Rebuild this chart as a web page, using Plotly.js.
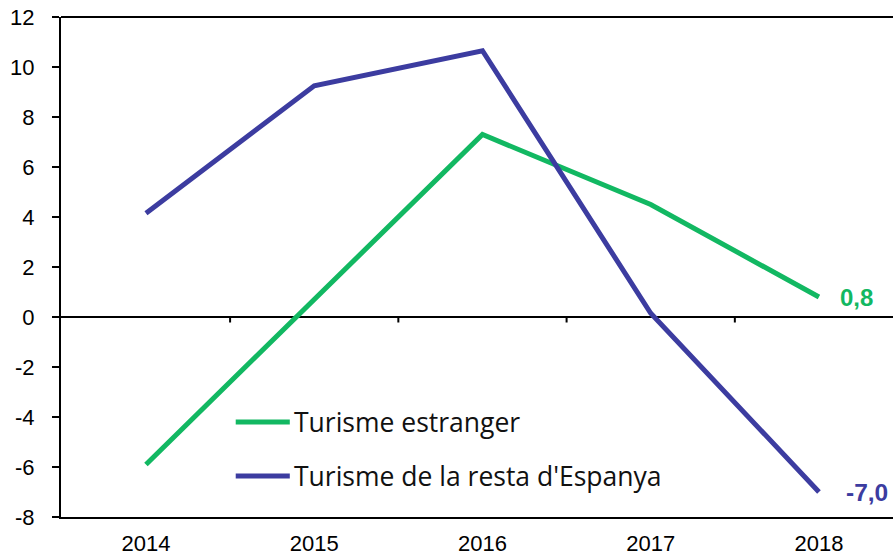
<!DOCTYPE html>
<html>
<head>
<meta charset="utf-8">
<script src="https://cdn.plot.ly/plotly-3.0.1.min.js"></script>
<style>html,body{margin:0;padding:0;background:#fff;}#chart{width:893px;height:558px;}</style>
</head>
<body>
<div id="chart"></div>
<script>
const years = ['2014', '2015', '2016', '2017', '2018'];
const seriesNames = ['Turisme estranger', "Turisme de la resta d'Espanya"];
const estranger = [-5.9, 0.7, 7.3, 4.5, 0.8];
const restaEspanya = [4.15, 9.25, 10.65, 0.15, -7.0];
const endLabels = ['0,8', '-7,0'];
const colors = ['#12B862', '#3C3CA0'];
const yTicks = [-8, -6, -4, -2, 0, 2, 4, 6, 8, 10, 12];
const yTickText = ['-8', '-6', '-4', '-2', '0', '2', '4', '6', '8', '10', '12'];

// styling (not data)
const labelShift = [19, 25];
const labelSize = [24, 24.5];

const allSeries = [estranger, restaEspanya];
const traces = allSeries.map((vals, i) => ({
  x: years.map((_, k) => k),
  y: vals,
  type: 'scatter',
  mode: 'lines',
  name: seriesNames[i],
  line: {color: colors[i], width: 5},
  showlegend: false,
  hoverinfo: 'skip'
}));

const shapes = [];
for (let k = 0; k < years.length; k++) {
  shapes.push({type: 'line', xref: 'x', yref: 'y', x0: k + 0.5, x1: k + 0.5, y0: 0, y1: -0.22,
    line: {color: '#000', width: 2}});
}
shapes.push({type: 'line', xref: 'paper', yref: 'paper', x0: 0, x1: 1, y0: 1, y1: 1, line: {color: '#000', width: 2}});

const annotations = [];
const legY = [0.19, 0.082];
seriesNames.forEach((n, i) => {
  shapes.push({type: 'line', xref: 'paper', yref: 'paper', x0: 0.210, x1: 0.275, y0: legY[i], y1: legY[i],
    line: {color: colors[i], width: 5}});
  annotations.push({xref: 'paper', yref: 'paper', x: 0.278, y: legY[i], text: n, showarrow: false,
    xanchor: 'left', yanchor: 'middle',
    font: {family: 'Open Sans', size: 26.5, color: '#111'}});
});
allSeries.forEach((vals, i) => {
  annotations.push({x: years.length - 1, y: vals[vals.length - 1], xref: 'x', yref: 'y',
    text: '<b>' + endLabels[i] + '</b>', showarrow: false, xanchor: 'left', yanchor: 'middle',
    xshift: labelShift[i], font: {family: 'Liberation Sans', size: labelSize[i], color: colors[i]}});
});

const layout = {
  width: 893, height: 558,
  margin: {l: 61, r: 0, t: 17, b: 41},
  paper_bgcolor: '#fff', plot_bgcolor: '#fff',
  showlegend: false,
  xaxis: {
    range: [-0.505, 4.44],
    tickmode: 'array', tickvals: years.map((_, k) => k), ticktext: years,
    showgrid: false, zeroline: false,
    showline: true, linecolor: '#000', linewidth: 2,
    ticks: '', ticklabelstandoff: 6,
    tickfont: {family: 'Liberation Sans', size: 22, color: '#000'}
  },
  yaxis: {
    range: [-8, 12],
    tickmode: 'array', tickvals: yTicks, ticktext: yTickText,
    showgrid: false,
    zeroline: true, zerolinecolor: '#000', zerolinewidth: 2,
    showline: true, linecolor: '#000', linewidth: 2,
    ticks: 'outside', ticklen: 7, tickwidth: 2, tickcolor: '#000',
    ticklabelstandoff: 13,
    tickfont: {family: 'Liberation Sans', size: 22, color: '#000'}
  },
  shapes: shapes,
  annotations: annotations
};

Plotly.newPlot('chart', traces, layout, {displayModeBar: false, staticPlot: true});
</script>
</body>
</html>
